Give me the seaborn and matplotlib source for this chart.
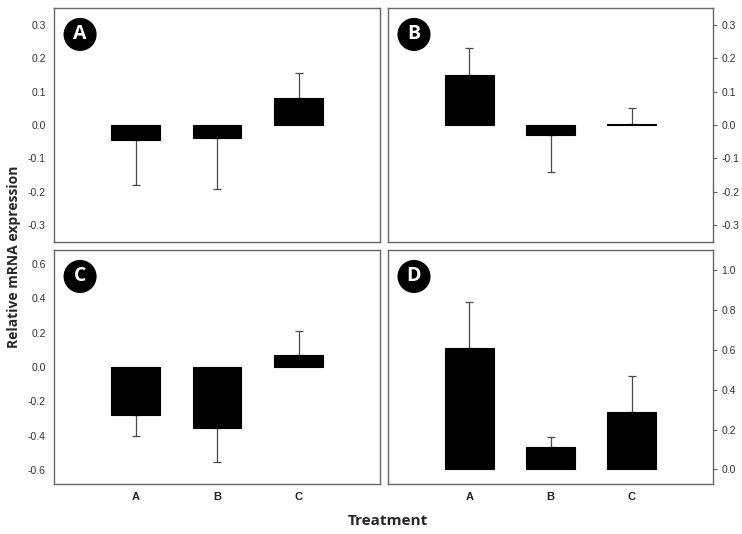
import numpy as np
import pandas as pd
import seaborn as sns
import matplotlib.pyplot as plt

# ================================
# Data
# ================================
treatments = ["A", "B", "C"]
panels = ["A", "B", "C", "D"]

mean_a = [-0.045, -0.038, 0.081]
sem_a = [0.133, 0.154, 0.074]
mean_b = [0.149, -0.029, 0.002]
sem_b = [0.081, 0.111, 0.048]
mean_c = [-0.279, -0.354, 0.067]
sem_c = [0.121, 0.196, 0.142]
mean_d = [0.611, 0.112, 0.288]
sem_d = [0.226, 0.050, 0.178]

ylims = {"A": (-0.35, 0.35), "B": (-0.35, 0.35), "C": (-0.68, 0.68), "D": (-0.073, 1.1)}
yticks = {
    "A": [-0.3, -0.2, -0.1, 0.0, 0.1, 0.2, 0.3],
    "B": [-0.3, -0.2, -0.1, 0.0, 0.1, 0.2, 0.3],
    "C": [-0.6, -0.4, -0.2, 0.0, 0.2, 0.4, 0.6],
    "D": [0.0, 0.2, 0.4, 0.6, 0.8, 1.0],
}

df = pd.DataFrame({
    "panel": np.repeat(panels, 3),
    "treatment": treatments * 4,
    "mean": mean_a + mean_b + mean_c + mean_d,
    "sem": sem_a + sem_b + sem_c + sem_d,
})

# ================================
# Figure
# ================================
sns.set_theme(style="white")
plt.rcParams["font.family"] = ["Liberation Sans", "DejaVu Sans"]

W, H = 742, 534
fig = plt.figure(figsize=(W / 100, H / 100), dpi=100)

# pixel boxes: left, top, right, bottom
boxes = {
    "A": (54, 8, 380, 242),
    "B": (388, 8, 713, 242),
    "C": (54, 250, 380, 484),
    "D": (388, 250, 713, 484),
}

edge = "#666666"
for p in panels:
    l, t, r, b = boxes[p]
    ax = fig.add_axes([l / W, 1 - b / H, (r - l) / W, (b - t) / H])
    sub = df[df["panel"] == p]

    sns.barplot(data=sub, x="treatment", y="mean", color="black",
                width=0.6, errorbar=None, saturation=1, ax=ax,
                edgecolor="black", linewidth=0.8, zorder=3)

    vals = sub["mean"].to_numpy()
    errs = sub["sem"].to_numpy()
    lower = np.where(vals < 0, errs, 0)
    upper = np.where(vals >= 0, errs, 0)
    ax.errorbar(np.arange(3), vals, yerr=[lower, upper], fmt="none",
                ecolor="#4a4a4a", elinewidth=0.9, capsize=3, capthick=0.9, zorder=2)

    ax.set_xlim(-1, 3)
    ax.set_ylim(*ylims[p])
    ax.set_yticks(yticks[p])
    ax.set_yticklabels([f"{v:.1f}" for v in yticks[p]], fontsize=7.5, color="#333333")
    ax.set_xlabel("")
    ax.set_ylabel("")

    if p in ("B", "D"):
        ax.yaxis.tick_right()
    if p in ("A", "B"):
        ax.set_xticklabels([])
    else:
        ax.set_xticklabels(treatments, fontsize=8, fontweight="bold", color="#222222")

    ax.tick_params(axis="both", direction="out", length=3, width=0.8, color=edge, pad=3)
    for s in ax.spines.values():
        s.set_color(edge)
        s.set_linewidth(1.0)

    ax.text(0.08, 0.887, p, transform=ax.transAxes, ha="center", va="center",
            color="white", fontsize=14, fontweight="bold", family=["Open Sans", "DejaVu Sans"],
            bbox=dict(boxstyle="circle,pad=0.3", fc="black", ec="black"), zorder=5)

fig.text(14 / W, 1 - 257 / H, "Relative mRNA expression", rotation=90,
         ha="center", va="center", fontsize=10, fontweight="bold",
         family=["Open Sans", "DejaVu Sans"])
fig.text(388 / W, 1 - 521 / H, "Treatment", ha="center", va="center",
         fontsize=11, fontweight="bold", family=["Open Sans", "DejaVu Sans"])

fig.savefig("out.png", dpi=100)
plt.close(fig)
